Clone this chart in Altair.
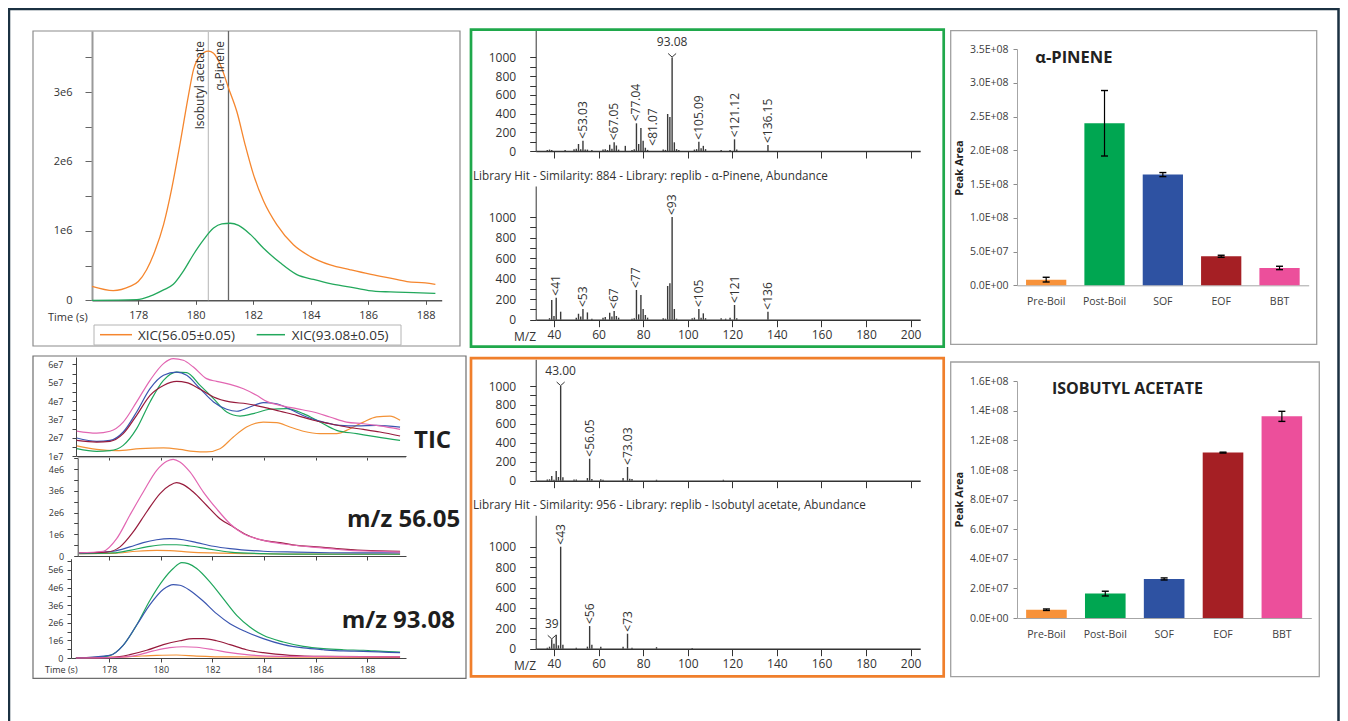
import altair as alt
import pandas as pd

W, H = 1332, 713
FONT = "Open Sans"

# ---------------- XIC panel: retention time (s) / intensity (x1e6) ----------------
XIC56_T = [176.39, 177.13, 177.71, 178.0, 178.29, 178.58, 178.88, 179.17, 179.46, 179.75, 179.92, 180.15,
           180.44, 180.62, 180.85, 181.14, 181.43, 181.72, 182.01, 182.36, 182.82, 183.4, 183.99, 184.68,
           185.38, 186.02, 186.77, 187.35, 187.99, 188.34]
XIC56_V = [0.20, 0.14, 0.20, 0.27, 0.44, 0.71, 1.09, 1.62, 2.27, 2.96, 3.32, 3.52, 3.59, 3.56, 3.40, 3.06,
           2.72, 2.24, 1.81, 1.43, 1.09, 0.80, 0.63, 0.51, 0.44, 0.38, 0.32, 0.27, 0.25, 0.23]
XIC93_T = [176.39, 177.95, 178.41, 178.88, 179.22, 179.57, 179.92, 180.27, 180.62, 180.91, 181.2, 181.49,
           181.9, 182.36, 182.94, 183.52, 184.1, 184.68, 185.38, 186.02, 186.77, 187.58, 188.34]
XIC93_V = [0.0, 0.01, 0.06, 0.15, 0.23, 0.42, 0.66, 0.87, 1.04, 1.10, 1.11, 1.08, 0.95, 0.75, 0.54, 0.37,
           0.30, 0.24, 0.19, 0.14, 0.12, 0.11, 0.10]
XIC_NAMES = ["XIC(56.05±0.05)", "XIC(93.08±0.05)"]
PEAK_NAMES = ["Isobutyl acetate", "α-Pinene"]
PEAK_RT = [180.44, 181.14]

# ---------------- overlay panel: samples ----------------
SAMPLES = ["Pre-Boil", "Post-Boil", "SOF", "EOF", "BBT"]
# TIC (x1e7)
TIC = {
    "Pre-Boil": [(176.74, 1.55), (177.51, 1.36), (178.29, 1.29), (179.19, 1.40), (180.1, 1.44), (180.74, 1.36),
                 (181.26, 1.25), (181.77, 1.22), (182.29, 1.40), (182.81, 2.04), (183.32, 2.58), (183.97, 2.85),
                 (184.49, 2.82), (185.0, 2.58), (185.52, 2.35), (186.17, 2.22), (186.81, 2.22), (187.33, 2.49),
                 (187.85, 2.85), (188.36, 3.13), (188.88, 3.18), (189.27, 2.95)],
    "Post-Boil": [(176.74, 1.40), (177.51, 1.25), (178.03, 1.29), (178.54, 1.58), (179.06, 2.49), (179.58, 3.95),
                  (180.1, 5.13), (180.61, 5.58), (181.0, 5.55), (181.52, 4.85), (182.04, 4.13), (182.55, 3.40),
                  (183.07, 3.18), (183.58, 3.31), (184.23, 3.55), (184.88, 3.58), (185.52, 3.31), (186.17, 2.85),
                  (186.81, 2.40), (187.59, 2.22), (188.36, 2.04), (189.27, 1.85)],
    "SOF": [(176.74, 1.98), (177.51, 1.80), (178.03, 1.85), (178.54, 2.31), (179.06, 3.40), (179.58, 4.67),
            (180.1, 5.40), (180.61, 5.58), (181.0, 5.40), (181.52, 4.67), (182.04, 3.95), (182.55, 3.55),
            (182.94, 3.44), (183.45, 3.67), (183.97, 3.91), (184.49, 3.85), (185.0, 3.55), (185.65, 3.13),
            (186.3, 2.85), (186.94, 2.67), (187.59, 2.64), (188.36, 2.67), (189.27, 2.58)],
    "EOF": [(176.74, 1.85), (177.51, 1.76), (178.03, 1.80), (178.54, 2.22), (179.06, 3.22), (179.58, 4.31),
            (180.1, 4.85), (180.61, 5.07), (181.0, 5.00), (181.52, 4.64), (182.04, 4.22), (182.68, 3.95),
            (183.32, 3.85), (183.97, 3.67), (184.62, 3.44), (185.26, 3.22), (185.91, 2.95), (186.55, 2.76),
            (187.2, 2.58), (187.85, 2.45), (188.49, 2.31), (189.27, 2.09)],
    "BBT": [(176.74, 2.36), (177.51, 2.25), (178.03, 2.35), (178.54, 2.85), (179.06, 3.95), (179.58, 5.13),
            (180.1, 6.04), (180.48, 6.31), (180.87, 6.22), (181.26, 5.85), (181.77, 5.22), (182.16, 5.07),
            (182.68, 4.91), (183.2, 4.67), (183.71, 4.31), (184.1, 3.98), (184.62, 3.76), (185.26, 3.58),
            (185.91, 3.40), (186.55, 3.13), (187.2, 2.85), (187.85, 2.76), (188.49, 2.64), (189.27, 2.45)],
}
# m/z 56.05 (x1e6)
MZ56 = {
    "Pre-Boil": [(176.84, 0.11), (178.16, 0.12), (179.06, 0.22), (179.84, 0.26), (180.35, 0.25), (181.13, 0.18),
                 (182.04, 0.14), (183.32, 0.11), (185.26, 0.09), (189.27, 0.09)],
    "Post-Boil": [(176.84, 0.11), (178.16, 0.14), (178.8, 0.26), (179.45, 0.42), (180.1, 0.52), (180.61, 0.52),
                  (181.13, 0.46), (181.77, 0.34), (182.68, 0.18), (183.97, 0.11), (185.26, 0.09), (189.27, 0.08)],
    "SOF": [(176.84, 0.14), (178.16, 0.22), (178.8, 0.42), (179.32, 0.62), (179.84, 0.75), (180.35, 0.80),
            (180.87, 0.75), (181.39, 0.62), (182.04, 0.45), (182.68, 0.34), (183.97, 0.22), (185.26, 0.18),
            (186.55, 0.15), (187.85, 0.14), (189.27, 0.14)],
    "EOF": [(176.84, 0.15), (177.9, 0.18), (178.42, 0.42), (178.93, 1.11), (179.45, 2.03), (179.97, 2.88),
            (180.35, 3.26), (180.61, 3.38), (180.87, 3.29), (181.26, 2.95), (181.77, 2.34), (182.29, 1.72),
            (182.81, 1.34), (183.32, 0.98), (183.97, 0.72), (184.62, 0.62), (185.26, 0.49), (186.04, 0.42),
            (186.81, 0.34), (187.85, 0.26), (189.27, 0.22)],
    "BBT": [(176.84, 0.15), (177.77, 0.22), (178.29, 0.80), (178.8, 1.88), (179.32, 2.95), (179.84, 3.95),
            (180.23, 4.37), (180.48, 4.46), (180.74, 4.34), (181.13, 3.88), (181.65, 2.95), (182.16, 2.18),
            (182.68, 1.49), (183.2, 1.03), (183.71, 0.80), (184.23, 0.65), (185.0, 0.52), (185.78, 0.42),
            (186.55, 0.34), (187.33, 0.26), (188.36, 0.22), (189.27, 0.18)],
}
# m/z 93.08 (x1e6)
MZ93 = {
    "Pre-Boil": [(176.71, 0.02), (178.8, 0.08), (179.84, 0.15), (180.61, 0.17), (181.39, 0.11), (182.68, 0.06),
                 (189.27, 0.04)],
    "Post-Boil": [(176.71, 0.0), (177.51, 0.04), (178.03, 0.15), (178.54, 0.72), (179.06, 1.86), (179.58, 3.28),
                  (180.1, 4.45), (180.48, 5.08), (180.81, 5.42), (181.06, 5.36), (181.39, 5.08), (181.9, 4.32),
                  (182.42, 3.37), (182.94, 2.42), (183.45, 1.76), (183.97, 1.29), (184.75, 0.91), (185.52, 0.66),
                  (186.3, 0.53), (187.07, 0.47), (187.85, 0.44), (188.62, 0.38), (189.27, 0.34)],
    "SOF": [(176.71, 0.0), (178.03, 0.15), (178.54, 0.72), (179.06, 1.86), (179.58, 3.03), (180.1, 3.90),
            (180.48, 4.17), (180.74, 4.13), (181.13, 3.84), (181.65, 3.22), (182.16, 2.52), (182.68, 1.95),
            (183.32, 1.48), (183.97, 1.10), (184.75, 0.76), (185.52, 0.57), (186.3, 0.47), (187.07, 0.40),
            (187.85, 0.38), (189.27, 0.30)],
    "EOF": [(176.71, 0.0), (178.16, 0.04), (178.8, 0.19), (179.45, 0.44), (180.1, 0.76), (180.74, 0.98),
            (181.26, 1.10), (181.65, 1.10), (182.16, 0.98), (182.68, 0.76), (183.32, 0.47), (183.97, 0.30),
            (185.0, 0.15), (186.3, 0.09), (189.27, 0.06)],
    "BBT": [(176.71, 0.0), (178.29, 0.04), (179.06, 0.15), (179.71, 0.40), (180.35, 0.59), (180.87, 0.64),
            (181.39, 0.61), (182.04, 0.47), (182.68, 0.30), (183.32, 0.19), (184.62, 0.09), (189.27, 0.06)],
}

# ---------------- mass spectra (m/z, abundance) ----------------
PINENE_MEAS = [(37, 12), (38, 15), (39, 12), (45, 10), (49, 18), (50, 25), (51, 75), (52, 20), (53, 110),
               (54, 15), (55, 15), (57, 10), (62, 15), (63, 20), (64, 10), (65, 66), (66, 25), (67, 93), (68, 59),
               (69, 15), (72, 55), (75, 10), (76, 20), (77, 296), (78, 75), (79, 246), (80, 110), (81, 35),
               (82, 12), (89, 15), (90, 12), (91, 396), (92, 364), (93, 1000), (94, 93), (95, 20), (96, 10),
               (103, 15), (104, 20), (105, 100), (106, 30), (107, 55), (108, 20), (115, 10), (119, 12),
               (121, 125), (122, 15), (136, 64)]
PINENE_LIB = [(38, 15), (39, 192), (40, 36), (41, 214), (43, 78), (50, 20), (51, 58), (52, 30), (53, 104),
              (55, 71), (57, 10), (62, 20), (63, 26), (65, 68), (66, 30), (67, 85), (68, 36), (69, 20), (75, 10),
              (76, 15), (77, 289), (78, 52), (79, 240), (80, 104), (81, 46), (82, 20), (89, 15), (90, 10),
              (91, 328), (92, 354), (93, 1000), (94, 104), (95, 10), (102, 15), (103, 20), (105, 104), (106, 20),
              (107, 62), (108, 15), (115, 15), (117, 10), (119, 20), (121, 143), (122, 15), (136, 78)]
ISO_MEAS = [(37, 12), (38, 15), (39, 50), (40, 10), (41, 102), (42, 39), (43, 1000), (44, 36), (49, 12),
            (50, 12), (55, 28), (56, 232), (57, 19), (61, 15), (62, 10), (71, 28), (73, 145), (74, 20), (75, 19),
            (86, 10), (116, 10)]
ISO_LIB = [(37, 10), (38, 20), (39, 92), (40, 49), (41, 137), (42, 33), (43, 1000), (44, 39), (50, 10),
           (55, 20), (56, 222), (57, 39), (61, 20), (71, 20), (73, 147), (75, 10), (86, 15), (102, 7)]

PINENE_MEAS_TOP = [(93, 1000, "93.08")]
PINENE_MEAS_LAB = [(53, 110, "53.03"), (67, 93, "67.05"), (77, 296, "77.04"), (105, 100, "105.09"),
                   (121, 125, "121.12"), (136, 64, "136.15")]
PINENE_MEAS_SIDE = [(81, 35, "81.07")]
PINENE_LIB_LAB = [(41, 214, "41"), (53, 104, "53"), (67, 85, "67"), (77, 289, "77"), (93, 1000, "93"),
                  (105, 104, "105"), (121, 143, "121"), (136, 78, "136")]
ISO_MEAS_TOP = [(43, 1000, "43.00")]
ISO_MEAS_LAB = [(56, 232, "56.05"), (73, 145, "73.03")]
ISO_LIB_TOP = [(39, 92, "39")]
ISO_LIB_LAB = [(43, 1000, "43"), (56, 222, "56"), (73, 147, "73")]

PINENE_TITLE = "Library Hit - Similarity: 884 - Library: replib - α-Pinene, Abundance"
ISO_TITLE = "Library Hit - Similarity: 956 - Library: replib - Isobutyl acetate, Abundance"

# ---------------- peak areas ----------------
PINENE_AREA = [8.4e6, 2.40e8, 1.64e8, 4.3e7, 2.57e7]
PINENE_ERR = [3.5e6, 4.85e7, 3.0e6, 1.5e6, 2.5e6]
ISO_AREA = [5.6e6, 1.65e7, 2.64e7, 1.118e8, 1.363e8]
ISO_ERR = [0.5e6, 1.6e6, 0.7e6, 0.3e6, 3.4e6]

BAR_COLORS = ["#f7923a", "#00a651", "#2e52a2", "#a51f24", "#ec4f9b"]
LINE_COLORS = ["#f39237", "#1fa65c", "#3a55b0", "#971b3c", "#e266b2"]

# ================= helpers =================
ONE = pd.DataFrame({"k": [0]})


def sc(domain, rng):
    return alt.Scale(domain=domain, range=rng, nice=False, zero=False)


def axis(orient, offset, values=None, labels=True, label_expr=None, tick=5, size=11, pad=3,
         dom="#555", domw=1.0, tickc=None, labelc="#333", ticks=True):
    kw = dict(orient=orient, offset=offset, title=None, grid=False, tickSize=tick, ticks=ticks,
              domainColor=dom, domainWidth=domw, tickColor=tickc or dom, labels=labels, labelFont=FONT,
              labelFontSize=size, labelColor=labelc, labelPadding=pad, labelFlush=False, labelOverlap=False,
              labelAngle=0)
    if values is not None:
        kw["values"] = values
    if label_expr:
        kw["labelExpr"] = label_expr
    return alt.Axis(**kw)


def rect(x0, y0, x1, y1, color, sw=1.0):
    return alt.Chart(ONE).mark_rect(fill="transparent", stroke=color, strokeWidth=sw).encode(
        x=alt.value(x0), x2=alt.value(x1), y=alt.value(y0), y2=alt.value(y1))


def hline(x0, x1, y, color, sw=1.0):
    return alt.Chart(ONE).mark_rule(color=color, strokeWidth=sw).encode(
        x=alt.value(x0), x2=alt.value(x1), y=alt.value(y))


def text(x, y, s, size, color="#333", weight="normal", angle=0, align="left", baseline="middle"):
    kw = dict(text=s, font=FONT, fontSize=size, color=color, fontWeight=weight, align=align, baseline=baseline)
    if angle:
        kw["angle"] = angle
    return alt.Chart(ONE).mark_text(**kw).encode(x=alt.value(x), y=alt.value(y))


def series_df(d):
    rows = [{"t": t, "v": v, "s": name} for name in SAMPLES for t, v in d[name]]
    return pd.DataFrame(rows)


def lines(df, xs, ys, xax, yax, domain, colors, sw=1.2):
    return alt.Chart(df).mark_line(strokeWidth=sw, interpolate="monotone").encode(
        x=alt.X("t:Q", scale=xs, axis=xax),
        y=alt.Y("v:Q", scale=ys, axis=yax),
        color=alt.Color("s:N", scale=alt.Scale(domain=domain, range=colors), legend=None))


def spectrum(peaks, xs, ys, xax, yax, rot=(), top=(), side=()):
    out = []
    df = pd.DataFrame(peaks, columns=["mz", "ab"])
    df["base"] = 0
    out.append(alt.Chart(df).mark_rule(color="#3a3a3a", strokeWidth=1.4).encode(
        x=alt.X("mz:Q", scale=xs, axis=xax), y=alt.Y("ab:Q", scale=ys, axis=yax), y2="base:Q"))
    enc = lambda: dict(x=alt.X("mz:Q", scale=xs, axis=None), y=alt.Y("ab:Q", scale=ys, axis=None))
    if rot:
        d = pd.DataFrame(list(rot), columns=["mz", "ab", "lab"])
        d["txt"] = "<" + d["lab"]
        out.append(alt.Chart(d).mark_text(angle=270, align="left", baseline="middle", dx=2, font=FONT,
                                          fontSize=12, color="#333").encode(text="txt:N", **enc()))
    if side:
        d = pd.DataFrame(list(side), columns=["mz", "ab", "lab"])
        d["txt"] = "<" + d["lab"]
        out.append(alt.Chart(d).mark_text(angle=270, align="left", baseline="middle", dx=2, dy=8, font=FONT,
                                          fontSize=12, color="#333").encode(text="txt:N", **enc()))
    if top:
        d = pd.DataFrame(list(top), columns=["mz", "ab", "lab"])
        out.append(alt.Chart(d).mark_text(align="center", baseline="alphabetic", dy=-11, font=FONT,
                                          fontSize=12, color="#333").encode(text="lab:N", **enc()))
        out.append(alt.Chart(d).mark_point(shape="M-1,-1L0,-0.1L1,-1", size=64, filled=False, opacity=1,
                                           stroke="#333", strokeWidth=1).encode(**enc()))
    return out


def bar_panel(vals, errs, xr, ydom, yr, yvals):
    df = pd.DataFrame({"cat": SAMPLES, "v": vals,
                       "lo": [v - e for v, e in zip(vals, errs)], "hi": [v + e for v, e in zip(vals, errs)]})
    xs = alt.Scale(domain=SAMPLES, range=xr, paddingInner=0.31, paddingOuter=0.155)
    ys = sc(ydom, yr)
    xax = axis("bottom", yr[0] - H, ticks=False, tick=0, size=10.5, pad=11, dom="#a6a6a6", labelc="#404040")
    yax = axis("left", -xr[0], values=yvals, label_expr="replace(format(datum.value, '.1e'), 'e+', 'E+0')",
               tick=4, size=10.5, pad=5, dom="#a6a6a6", tickc="#8c8c8c", labelc="#404040")
    bx = lambda ax: alt.X("cat:N", scale=xs, axis=ax, sort=SAMPLES)
    out = [
        alt.Chart(df).mark_bar().encode(
            x=bx(xax), y=alt.Y("v:Q", scale=ys, axis=yax),
            color=alt.Color("cat:N", scale=alt.Scale(domain=SAMPLES, range=BAR_COLORS), legend=None)),
        alt.Chart(df).mark_rule(color="black", strokeWidth=1.2).encode(
            x=bx(None), y=alt.Y("lo:Q", scale=ys, axis=None), y2="hi:Q"),
        alt.Chart(df).mark_tick(color="black", size=7, thickness=1.4, opacity=1).encode(
            x=bx(None), y=alt.Y("lo:Q", scale=ys, axis=None)),
        alt.Chart(df).mark_tick(color="black", size=7, thickness=1.4, opacity=1).encode(
            x=bx(None), y=alt.Y("hi:Q", scale=ys, axis=None)),
    ]
    return out


L = []
# ---------------- frames ----------------
L.append(rect(1, 1, 1330.5, 760, "#1b3142", 2.5))
L.append(rect(25, 23, 452, 338, "#8c8c8c", 1.2))       # XIC
L.append(rect(25, 348, 458, 670.3, "#6e6e6e", 1.2))    # overlays
L.append(rect(463, 21.7, 935.7, 338.7, "#1fa84b", 2.7))  # pinene spectra
L.append(rect(463, 350.2, 935.7, 668.3, "#f07f2b", 2.7))  # isobutyl spectra
L.append(rect(942.7, 22.7, 1308.7, 336.3, "#a0a0a0", 1.3))
L.append(rect(942.7, 354, 1311.3, 668.7, "#a0a0a0", 1.3))

# ---------------- panel A: XIC ----------------
xA = sc([176.39, 188.56], [84, 433.7])
yA = sc([0, 3.88], [292.3, 23])
axA_x = axis("bottom", 292.3 - H, values=[178, 180, 182, 184, 186, 188], tick=4, size=11, pad=5, dom="#555", domw=1.5)
axA_y = axis("left", -84, values=[i * 0.5 for i in range(8)],
             label_expr="datum.value == 0 ? '0' : (datum.value % 1 == 0 ? datum.value + 'e6' : '')",
             tick=7, size=11, pad=13, dom="#9a9a9a", domw=2, tickc="#666")
xic_df = pd.DataFrame(
    [{"t": t, "v": v, "s": XIC_NAMES[0]} for t, v in zip(XIC56_T, XIC56_V)] +
    [{"t": t, "v": v, "s": XIC_NAMES[1]} for t, v in zip(XIC93_T, XIC93_V)])
peak_df = pd.DataFrame({"t": PEAK_RT, "name": PEAK_NAMES})
L.append(alt.Chart(peak_df).mark_rule(strokeWidth=1.3).encode(
    x=alt.X("t:Q", scale=xA, axis=None), y=alt.value(23), y2=alt.value(292.3),
    color=alt.Color("name:N", scale=alt.Scale(domain=PEAK_NAMES, range=["#c4c4c4", "#666666"]), legend=None)))
L.append(lines(xic_df, xA, yA, axA_x, axA_y, XIC_NAMES, ["#f5862e", "#23a85c"], sw=1.3))
L.append(alt.Chart(peak_df).mark_text(angle=270, align="right", baseline="bottom", dy=-1, font=FONT,
                                      fontSize=12, color="#333").encode(
    x=alt.X("t:Q", scale=xA, axis=None), y=alt.value(33), text="name:N"))
L.append(text(40, 310, "Time (s)", 11))
L.append(rect(86, 317, 393, 337, "#b4b4b4", 1))
L.append(hline(92, 124, 326.7, "#f5862e", 1.5))
L.append(hline(248.7, 277, 326.7, "#23a85c", 1.5))
L.append(text(130, 327.5, XIC_NAMES[0], 13.5))
L.append(text(283.7, 327.5, XIC_NAMES[1], 13.5))

# ---------------- panels B/E: spectra ----------------
xS = sc([31.8, 204.3], [527.7, 912.2])
MZ_TICKS = list(range(40, 201, 20))
AB_TICKS = list(range(0, 1001, 100))
AB_EXPR = "datum.value % 200 == 0 ? '' + datum.value : ''"


def spec_axes(y_zero, labels):
    xax = axis("bottom", y_zero - H, values=MZ_TICKS, labels=labels, tick=7, size=12, pad=3,
               dom="#333", domw=1.6)
    yax = axis("left", -527.7, values=AB_TICKS, label_expr=AB_EXPR, tick=6, size=12, pad=14, dom="#333")
    return xax, yax


yB1 = sc([0, 1294], [143, 22])
yB2 = sc([0, 1302], [311.7, 178])
L += spectrum(PINENE_MEAS, xS, yB1, *spec_axes(143, False), rot=PINENE_MEAS_LAB, top=PINENE_MEAS_TOP,
              side=PINENE_MEAS_SIDE)
L += spectrum(PINENE_LIB, xS, yB2, *spec_axes(311.7, True), rot=PINENE_LIB_LAB)
L.append(text(465, 167.7, PINENE_TITLE, 11.7))
L.append(text(506, 328.7, "M/Z", 12))

yE1 = sc([0, 1282], [472.7, 351.3])
yE2 = sc([0, 1308], [640.7, 507.3])
L += spectrum(ISO_MEAS, xS, yE1, *spec_axes(472.7, False), rot=ISO_MEAS_LAB, top=ISO_MEAS_TOP)
L += spectrum(ISO_LIB, xS, yE2, *spec_axes(640.7, True), rot=ISO_LIB_LAB, top=ISO_LIB_TOP)
L.append(text(465, 497.3, ISO_TITLE, 11.7))
L.append(text(506, 658.3, "M/Z", 12))

# ---------------- panels C/F: peak areas ----------------
L += bar_panel(PINENE_AREA, PINENE_ERR, [1009, 1300.7], [0, 3.5e8], [277.3, 41], [i * 5e7 for i in range(8)])
L.append(text(951.7, 160, "Peak Area", 11, color="#222", weight="bold", angle=270, align="center"))
L.append(text(1027.3, 50, "α-PINENE", 16.5, color="#222", weight="bold"))

L += bar_panel(ISO_AREA, ISO_ERR, [1009, 1303.3], [0, 1.6e8], [610, 373.3], [i * 2e7 for i in range(9)])
L.append(text(951.7, 491.7, "Peak Area", 11, color="#222", weight="bold", angle=270, align="center"))
L.append(text(1044, 380.7, "ISOBUTYL ACETATE", 16, color="#222", weight="bold"))

# ---------------- panel D: overlays ----------------
T_TICKS = [178, 180, 182, 184, 186, 188]
xD1 = sc([176.71, 189.5], [68, 398])
xD2 = sc([176.78, 189.5], [69.7, 398])
xD3 = sc([176.52, 189.5], [63, 398])
yD1 = sc([1, 6.4], [448, 349])
yD2 = sc([0, 4.52], [548, 450])
yD3 = sc([0, 5.64], [650, 550.7])
E7 = "datum.value % 1 == 0 ? datum.value + 'e7' : ''"
E6 = "datum.value == 0 ? '0' : (datum.value % 1 == 0 ? datum.value + 'e6' : '')"
L.append(hline(69.7, 398, 449.6, "#b0b0b0", 1))
L.append(lines(series_df(TIC), xD1, yD1,
               axis("bottom", 448 - H, values=T_TICKS, labels=False, tick=4, dom="#444"),
               axis("left", -68, values=[1 + 0.5 * i for i in range(11)], label_expr=E7, tick=4, size=9,
                    pad=9, dom="#444"),
               SAMPLES, LINE_COLORS))
L.append(lines(series_df(MZ56), xD2, yD2,
               axis("bottom", 548 - H, values=T_TICKS, labels=False, tick=4, dom="#444"),
               axis("left", -69.7, values=[0.5 * i for i in range(10)], label_expr=E6, tick=4, size=9,
                    pad=10, dom="#444"),
               SAMPLES, LINE_COLORS))
L.append(lines(series_df(MZ93), xD3, yD3,
               axis("bottom", 650 - H, values=T_TICKS, tick=4, size=9, pad=3, dom="#444"),
               axis("left", -63, values=[0.5 * i for i in range(12)], label_expr=E6, tick=4, size=9,
                    pad=4, dom="#444"),
               SAMPLES, LINE_COLORS))
L.append(text(37, 662.3, "Time (s)", 9))
L.append(text(406, 433.3, "TIC", 24, color="#1e1e1e", weight="bold"))
L.append(text(339, 512.3, "m/z 56.05", 24, color="#1e1e1e", weight="bold"))
L.append(text(333.7, 613.3, "m/z 93.08", 24, color="#1e1e1e", weight="bold"))

chart = alt.layer(*L).resolve_scale(x="independent", y="independent", color="independent").properties(
    width=W, height=H, padding=0, background="white",
    autosize=alt.AutoSizeParams(type="none")).configure_view(strokeWidth=0)

chart.save("out.html", embed_options={"renderer": "svg", "actions": False})
